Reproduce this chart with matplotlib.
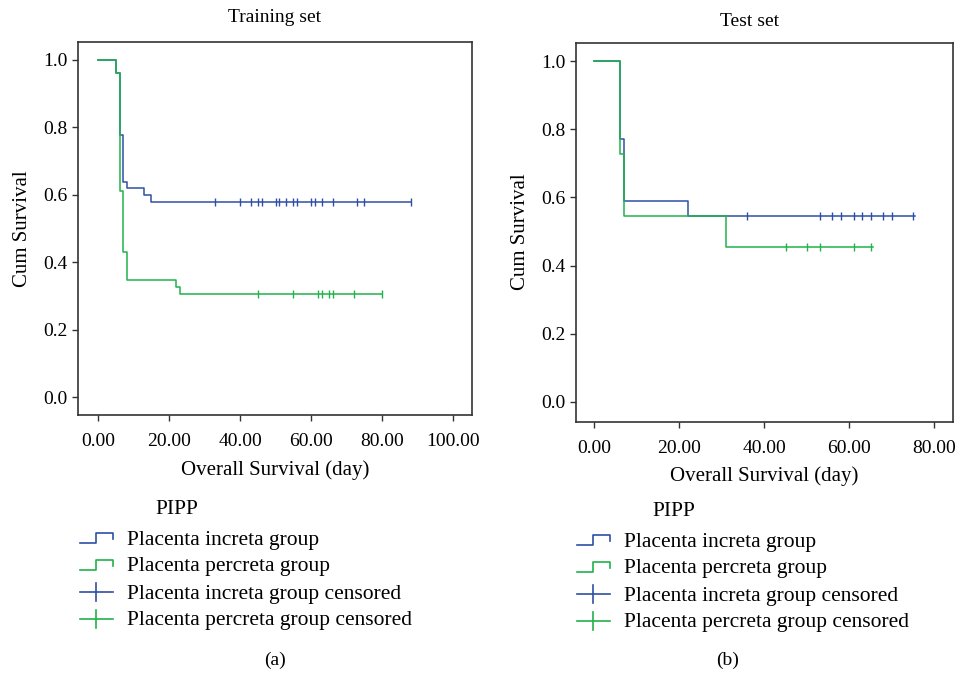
import matplotlib
matplotlib.use('Agg')
import matplotlib.pyplot as plt
from matplotlib.lines import Line2D

plt.rcParams['font.family'] = ['Liberation Serif', 'DejaVu Serif']

blue = '#2f4fa6'
green = '#21b24b'

# training set (a)
train_inc_t = [0, 5, 6, 7, 8, 13, 15, 88]
train_inc_s = [1.0, 0.96, 0.778, 0.639, 0.62, 0.60, 0.58, 0.58]
train_inc_cens = [33, 40, 43, 45, 46, 50, 51, 53, 55, 56, 60, 61, 63, 66, 73, 75, 88]
train_per_t = [0, 5, 6, 7, 8, 22, 23, 80]
train_per_s = [1.0, 0.96, 0.612, 0.43, 0.347, 0.327, 0.305, 0.305]
train_per_cens = [45, 55, 62, 63, 65, 66, 72, 80]

# test set (b)
test_inc_t = [0, 6, 7, 22, 75.5]
test_inc_s = [1.0, 0.773, 0.591, 0.545, 0.545]
test_inc_cens = [36, 53, 56, 58, 61, 63, 65, 68, 70, 75]
test_per_t = [0, 6, 7, 31, 65.5]
test_per_s = [1.0, 0.727, 0.545, 0.455, 0.455]
test_per_cens = [45, 50, 53, 61, 65]

legend_labels = ['Placenta increta group', 'Placenta percreta group',
                 'Placenta increta group censored', 'Placenta percreta group censored']


def km_value(t, times, surv):
    v = surv[0]
    for tt, s in zip(times, surv):
        if t >= tt:
            v = s
    return v


def km_plot(ax, inc, per, xticks, xlim, ylim):
    for (times, surv, cens), col in zip([inc, per], [blue, green]):
        ax.step(times, surv, where='post', color=col, lw=1.1)
        ax.plot(cens, [km_value(c, times, surv) for c in cens], ls='none',
                marker='|', ms=6, mew=1.0, color=col)
    ax.set_xlim(*xlim)
    ax.set_ylim(*ylim)
    ax.set_xticks(xticks)
    ax.set_xticklabels(['%.2f' % x for x in xticks])
    yt = [0.0, 0.2, 0.4, 0.6, 0.8, 1.0]
    ax.set_yticks(yt)
    ax.set_yticklabels(['%.1f' % y for y in yt])
    ax.tick_params(labelsize=14, length=4, width=1, color='#333333')
    ax.tick_params(axis='x', pad=9)
    for sp in ax.spines.values():
        sp.set_linewidth(1.2)
        sp.set_color('#333333')
    ax.set_xlabel('Overall Survival (day)', fontsize=15, labelpad=7)
    ax.set_ylabel('Cum Survival', fontsize=15, labelpad=8)


def legend_block(fig, x0, y0, rows):
    # x0: icon left (px), y0: "PIPP" row (px from top), rows: entry rows
    W, H = 959.0, 675.0
    fig.text((x0 + 75) / W, 1 - y0 / H, 'PIPP', fontsize=15.5, va='center')
    for i, (lab, col, y) in enumerate(zip(legend_labels, [blue, green, blue, green], rows)):
        if i < 2:
            xs = [x0, x0 + 16, x0 + 16, x0 + 33, x0 + 33]
            ys = [y + 5, y + 5, y - 5, y - 5, y + 1]
            fig.add_artist(Line2D([v / W for v in xs], [1 - v / H for v in ys],
                                  color=col, lw=1.2, transform=fig.transFigure))
        else:
            fig.add_artist(Line2D([x0 / W, (x0 + 33) / W], [1 - y / H] * 2,
                                  color=col, lw=1.2, transform=fig.transFigure))
            fig.add_artist(Line2D([(x0 + 16) / W] * 2, [1 - (y - 9) / H, 1 - (y + 9) / H],
                                  color=col, lw=1.2, transform=fig.transFigure))
        fig.text((x0 + 47) / W, 1 - (y + 2) / H, lab, fontsize=15.5, va='center')


fig = plt.figure(figsize=(9.59, 6.75), dpi=100)
ax1 = fig.add_axes([0.0817, 0.385, 0.4105, 0.5526])
ax2 = fig.add_axes([0.6003, 0.3753, 0.3934, 0.5615])

km_plot(ax1, (train_inc_t, train_inc_s, train_inc_cens),
        (train_per_t, train_per_s, train_per_cens),
        [0, 20, 40, 60, 80, 100], (-5.6, 105.3), (-0.053, 1.053))
km_plot(ax2, (test_inc_t, test_inc_s, test_inc_cens),
        (test_per_t, test_per_s, test_per_cens),
        [0, 20, 40, 60, 80], (-4.4, 84.4), (-0.059, 1.055))

fig.text(275 / 959, 1 - 17 / 675, 'Training set', fontsize=14, ha='center', va='center')
fig.text(750 / 959, 1 - 22 / 675, 'Test set', fontsize=14, ha='center', va='center')

legend_block(fig, 80, 509, [538, 565, 592, 619])
legend_block(fig, 577, 512, [540, 567, 594, 621])

fig.text(275 / 959, 1 - 660 / 675, '(a)', fontsize=14, ha='center', va='center')
fig.text(728 / 959, 1 - 660 / 675, '(b)', fontsize=14, ha='center', va='center')

fig.savefig('out.png', dpi=100)
